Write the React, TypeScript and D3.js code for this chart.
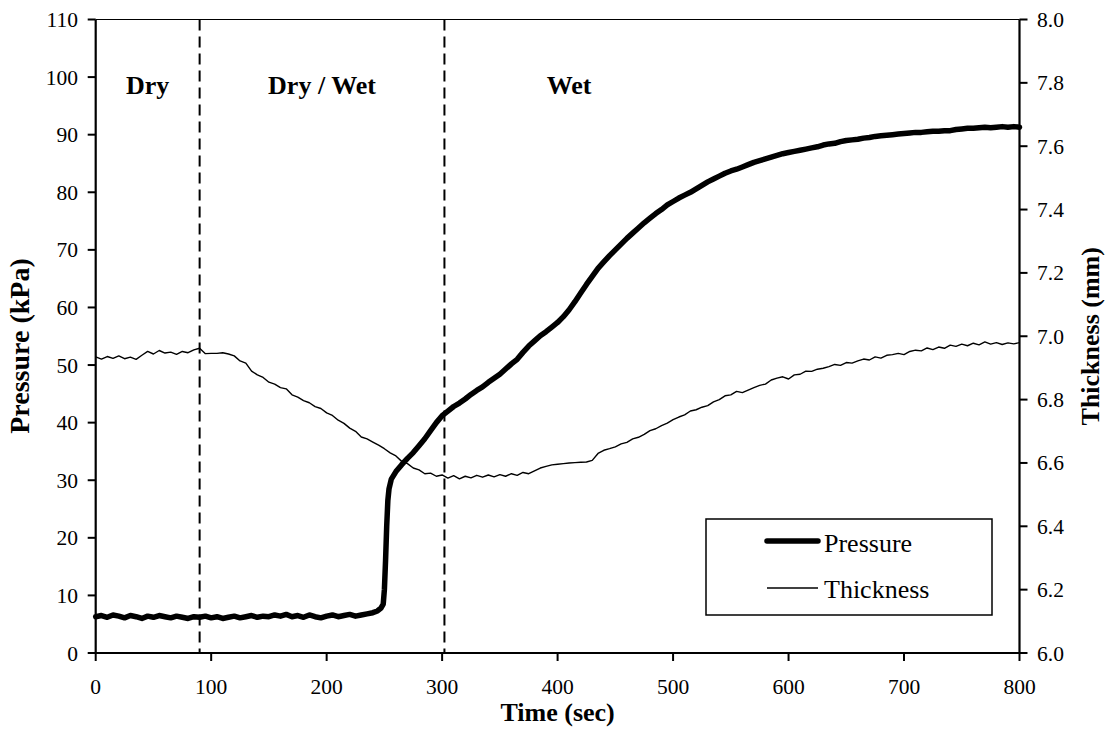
import React from "react";
import * as d3 from "d3";

// ---------- DATA ----------
const xTicks = [0, 100, 200, 300, 400, 500, 600, 700, 800];
const pressureTicks = [0, 10, 20, 30, 40, 50, 60, 70, 80, 90, 100, 110];
const thicknessTicks = [6.0, 6.2, 6.4, 6.6, 6.8, 7.0, 7.2, 7.4, 7.6, 7.8, 8.0];

const phaseBoundaries = [90, 302];
const phaseLabels = ["Dry", "Dry / Wet", "Wet"];
const phaseLabelTimes = [45, 196, 410];

const pressureTime = [
  0, 5, 10, 15, 20, 25, 30, 35, 40, 45, 50, 55, 60, 65, 70, 75, 80, 85, 90, 95,
  100, 105, 110, 115, 120, 125, 130, 135, 140, 145, 150, 155, 160, 165, 170, 175, 180, 185, 190, 195,
  200, 205, 210, 215, 220, 225, 230, 235, 240, 244, 247, 249, 250, 251, 252, 253, 254, 256, 260, 265,
  270, 275, 280, 285, 290, 295, 300, 305, 310, 315, 320, 325, 330, 335, 340, 345, 350, 355, 360, 365,
  370, 375, 380, 385, 390, 395, 400, 405, 410, 415, 420, 425, 430, 435, 440, 445, 450, 455, 460, 465,
  470, 475, 480, 485, 490, 495, 500, 505, 510, 515, 520, 525, 530, 535, 540, 545, 550, 555, 560, 565,
  570, 575, 580, 585, 590, 595, 600, 605, 610, 615, 620, 625, 630, 635, 640, 645, 650, 655, 660, 665,
  670, 675, 680, 685, 690, 695, 700, 705, 710, 715, 720, 725, 730, 735, 740, 745, 750, 755, 760, 765,
  770, 775, 780, 785, 790, 795, 800,
];
const pressureValue = [
  6.3, 6.5, 6.2, 6.6, 6.4, 6.1, 6.5, 6.3, 6.0, 6.4, 6.2, 6.5, 6.3, 6.1, 6.4, 6.2, 6.0, 6.3, 6.2, 6.4,
  6.1, 6.3, 6.0, 6.2, 6.4, 6.1, 6.3, 6.5, 6.2, 6.4, 6.3, 6.6, 6.4, 6.7, 6.3, 6.5, 6.2, 6.6, 6.3, 6.1,
  6.4, 6.6, 6.3, 6.5, 6.7, 6.4, 6.6, 6.8, 7.0, 7.3, 7.8, 8.5, 11.0, 16.0, 22.0, 26.5, 28.5, 30.2, 31.5, 32.7,
  33.8, 34.8, 36.0, 37.2, 38.6, 40.0, 41.2, 42.0, 42.8, 43.4, 44.1, 44.9, 45.6, 46.2, 47.0, 47.7, 48.4, 49.3, 50.2, 51.0,
  52.2, 53.3, 54.2, 55.1, 55.8, 56.6, 57.4, 58.4, 59.6, 61.0, 62.5, 64.0, 65.4, 66.8, 67.9, 69.0, 70.0, 71.0, 72.0, 72.9,
  73.8, 74.7, 75.5, 76.3, 77.0, 77.8, 78.4, 79.0, 79.5, 80.0, 80.6, 81.2, 81.8, 82.3, 82.8, 83.3, 83.7, 84.0, 84.4, 84.8,
  85.2, 85.5, 85.8, 86.1, 86.4, 86.7, 86.9, 87.1, 87.3, 87.5, 87.7, 87.9, 88.2, 88.4, 88.5, 88.8, 89.0, 89.1, 89.2, 89.4,
  89.5, 89.7, 89.8, 89.9, 90.0, 90.1, 90.2, 90.3, 90.4, 90.4, 90.5, 90.6, 90.6, 90.7, 90.7, 90.9, 91.0, 91.1, 91.1, 91.2,
  91.3, 91.2, 91.3, 91.4, 91.3, 91.4, 91.3,
];

const thicknessTime = [
  0, 5, 10, 15, 20, 25, 30, 35, 40, 45, 50, 55, 60, 65, 70, 75, 80, 85, 90, 95,
  100, 105, 110, 115, 120, 125, 130, 135, 140, 145, 150, 155, 160, 165, 170, 175, 180, 185, 190, 195,
  200, 205, 210, 215, 220, 225, 230, 235, 240, 245, 250, 255, 260, 265, 270, 275, 280, 285, 290, 295,
  300, 305, 310, 315, 320, 325, 330, 335, 340, 345, 350, 355, 360, 365, 370, 375, 380, 385, 390, 395,
  400, 405, 410, 415, 420, 425, 430, 435, 440, 445, 450, 455, 460, 465, 470, 475, 480, 485, 490, 495,
  500, 505, 510, 515, 520, 525, 530, 535, 540, 545, 550, 555, 560, 565, 570, 575, 580, 585, 590, 595,
  600, 605, 610, 615, 620, 625, 630, 635, 640, 645, 650, 655, 660, 665, 670, 675, 680, 685, 690, 695,
  700, 705, 710, 715, 720, 725, 730, 735, 740, 745, 750, 755, 760, 765, 770, 775, 780, 785, 790, 795,
  800,
];
const thicknessValue = [
  6.935, 6.928, 6.936, 6.930, 6.938, 6.929, 6.934, 6.927, 6.940, 6.952, 6.944, 6.955, 6.947, 6.950, 6.943, 6.952, 6.948, 6.957, 6.962, 6.945,
  6.946, 6.946, 6.948, 6.944, 6.938, 6.922, 6.915, 6.890, 6.878, 6.870, 6.855, 6.849, 6.838, 6.834, 6.815, 6.808, 6.797, 6.790, 6.778, 6.772,
  6.758, 6.750, 6.735, 6.725, 6.710, 6.700, 6.682, 6.676, 6.666, 6.656, 6.645, 6.632, 6.622, 6.605, 6.598, 6.584, 6.578, 6.566, 6.568, 6.558,
  6.562, 6.552, 6.560, 6.550, 6.558, 6.553, 6.561, 6.555, 6.562, 6.556, 6.563, 6.558, 6.566, 6.561, 6.570, 6.566, 6.575, 6.584, 6.589, 6.594,
  6.596, 6.598, 6.600, 6.601, 6.602, 6.603, 6.608, 6.630, 6.640, 6.645, 6.651, 6.660, 6.665, 6.676, 6.681, 6.690, 6.702, 6.708, 6.718, 6.726,
  6.737, 6.745, 6.752, 6.764, 6.768, 6.776, 6.781, 6.793, 6.800, 6.812, 6.815, 6.826, 6.822, 6.830, 6.838, 6.845, 6.849, 6.862, 6.868, 6.872,
  6.865, 6.878, 6.880, 6.890, 6.889, 6.896, 6.899, 6.904, 6.911, 6.908, 6.917, 6.915, 6.922, 6.928, 6.925, 6.935, 6.931, 6.940, 6.942, 6.946,
  6.942, 6.952, 6.956, 6.954, 6.963, 6.958, 6.966, 6.962, 6.972, 6.968, 6.975, 6.970, 6.978, 6.973, 6.982, 6.975, 6.980, 6.974, 6.979, 6.976,
  6.980,
];

// ---------- LAYOUT ----------
const W = 1107;
const H = 747;
const PL = 95.7;
const PR = 1019.5;
const PT = 19.5;
const PB = 653;
const FONT = "'Liberation Serif', 'Times New Roman', serif";

export default function App() {
  const x = d3.scaleLinear().domain([0, 800]).range([PL, PR]);
  const yP = d3.scaleLinear().domain([0, 110]).range([PB, PT]);
  const yT = d3.scaleLinear().domain([6, 8]).range([PB, PT]);

  const pData = pressureTime.map((t, i) => [t, pressureValue[i]] as [number, number]);
  const tData = thicknessTime.map((t, i) => [t, thicknessValue[i]] as [number, number]);

  const pLine = d3.line<[number, number]>().x((d) => x(d[0])).y((d) => yP(d[1]));
  const tLine = d3.line<[number, number]>().x((d) => x(d[0])).y((d) => yT(d[1]));
  const fmt1 = d3.format(".1f");

  return (
    <svg
      width={W}
      height={H}
      style={{ position: "absolute", left: 0, top: 0, background: "#fff", fontFamily: FONT }}
    >
      <rect x={0} y={0} width={W} height={H} fill="#fff" />

      {/* phase boundaries */}
      {phaseBoundaries.map((b) => (
        <line key={b} x1={x(b)} x2={x(b)} y1={PT} y2={PB} stroke="#000" strokeWidth={2} strokeDasharray="11,6" />
      ))}

      {/* phase labels */}
      {phaseLabels.map((l, i) => (
        <text key={l} x={x(phaseLabelTimes[i])} y={94} textAnchor="middle" fontWeight="bold" fontSize={26}>
          {l}
        </text>
      ))}

      {/* series */}
      <path d={tLine(tData) || ""} fill="none" stroke="#000" strokeWidth={1.4} strokeLinejoin="round" />
      <path d={pLine(pData) || ""} fill="none" stroke="#000" strokeWidth={5.5} strokeLinejoin="round" strokeLinecap="round" />

      {/* frame */}
      <line x1={PL} x2={PR} y1={PT} y2={PT} stroke="#000" strokeWidth={1.2} />
      <line x1={PL} x2={PL} y1={PT} y2={PB} stroke="#000" strokeWidth={2.2} />
      <line x1={PR} x2={PR} y1={PT} y2={PB} stroke="#000" strokeWidth={2.2} />
      <line x1={PL} x2={PR} y1={PB} y2={PB} stroke="#000" strokeWidth={2.2} />

      {/* x ticks */}
      {xTicks.map((t) => (
        <g key={"x" + t}>
          <line x1={x(t)} x2={x(t)} y1={PB} y2={PB + 8} stroke="#000" strokeWidth={2} />
          <text x={x(t)} y={694} textAnchor="middle" fontSize={21.5}>
            {t}
          </text>
        </g>
      ))}

      {/* left ticks */}
      {pressureTicks.map((t) => (
        <g key={"p" + t}>
          <line x1={PL - 8} x2={PL} y1={yP(t)} y2={yP(t)} stroke="#000" strokeWidth={2} />
          <text x={78} y={yP(t)} dy="0.35em" textAnchor="end" fontSize={21.5}>
            {t}
          </text>
        </g>
      ))}

      {/* right ticks */}
      {thicknessTicks.map((t) => (
        <g key={"t" + t}>
          <line x1={PR} x2={PR + 8} y1={yT(t)} y2={yT(t)} stroke="#000" strokeWidth={2} />
          <text x={1037} y={yT(t)} dy="0.35em" textAnchor="start" fontSize={21.5}>
            {fmt1(t)}
          </text>
        </g>
      ))}

      {/* axis titles */}
      <text x={(PL + PR) / 2} y={721} textAnchor="middle" fontWeight="bold" fontSize={26}>
        Time (sec)
      </text>
      <text
        transform={`translate(29, 346) rotate(-90)`}
        textAnchor="middle"
        fontWeight="bold"
        fontSize={28}
      >
        Pressure (kPa)
      </text>
      <text
        transform={`translate(1099, ${(PT + PB) / 2}) rotate(-90)`}
        textAnchor="middle"
        fontWeight="bold"
        fontSize={26}
      >
        Thickness (mm)
      </text>

      {/* legend */}
      <rect x={706} y={519} width={286} height={96} fill="#fff" stroke="#000" strokeWidth={1.5} />
      <line x1={767} x2={818} y1={541} y2={541} stroke="#000" strokeWidth={5.5} strokeLinecap="round" />
      <text x={824} y={552} fontSize={26}>
        Pressure
      </text>
      <line x1={767} x2={818} y1={588} y2={588} stroke="#000" strokeWidth={1.4} />
      <text x={824} y={598} fontSize={26}>
        Thickness
      </text>
    </svg>
  );
}
